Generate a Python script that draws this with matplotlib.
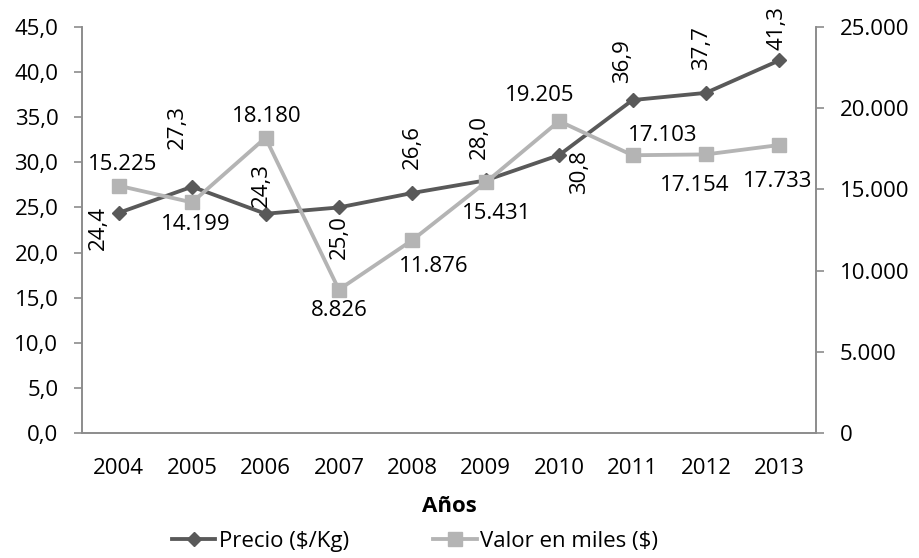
import matplotlib
matplotlib.use("Agg")
import matplotlib.pyplot as plt
from matplotlib.ticker import FuncFormatter, MultipleLocator

plt.rcParams['font.family'] = ['Open Sans', 'DejaVu Sans']

years = [2004, 2005, 2006, 2007, 2008, 2009, 2010, 2011, 2012, 2013]
precio = [24.4, 27.3, 24.3, 25.0, 26.6, 28.0, 30.8, 36.9, 37.7, 41.3]
valor = [15225, 14199, 18180, 8826, 11876, 15431, 19205, 17103, 17154, 17733]

# label offsets (pixels) from each point
precio_off = [(-20, -15), (-15, 60), (-4, 29), (0, -30), (0, 46), (-6, 43), (20, -17), (-10, 39), (-4, 45), (-2, 32)]
valor_off = [(4, 21), (4, -22), (1, 21), (0, -21), (21, -26), (11, -31), (-19, 26), (30, 20), (-11, -31), (-2, -36)]

C1 = '#595959'
C2 = '#b4b4b4'
AX = '#8c8c8c'
FS = 16

W, H = 920, 558
fig = plt.figure(figsize=(W / 100, H / 100), dpi=100)
L, R, T, B = 82, 816, 27, 433
ax = fig.add_axes([L / W, 1 - B / H, (R - L) / W, (B - T) / H])
ax2 = ax.twinx()

x = list(range(len(years)))
l1, = ax.plot(x, precio, color=C1, lw=2.75, marker='D', ms=7, zorder=3, label='Precio ($/Kg)')
l2, = ax2.plot(x, valor, color=C2, lw=2.75, marker='s', ms=10.5, zorder=2, label='Valor en miles ($)')

ax.set_xlim(-0.5, len(years) - 0.5)
ax.set_ylim(0, 45)
ax2.set_ylim(0, 25000)
ax.yaxis.set_major_locator(MultipleLocator(5))
ax2.yaxis.set_major_locator(MultipleLocator(5000))
ax.yaxis.set_major_formatter(FuncFormatter(lambda v, p: f"{v:.1f}".replace('.', ',')))
ax2.yaxis.set_major_formatter(FuncFormatter(lambda v, p: f"{int(v):,}".replace(',', '.')))
ax.set_xticks(x)
ax.set_xticklabels([str(y) for y in years])

for a in (ax, ax2):
    a.spines['top'].set_visible(False)
    for s in ('left', 'right', 'bottom'):
        a.spines[s].set_color(AX)
        a.spines[s].set_linewidth(1.2)
ax.tick_params(axis='y', colors=AX, labelcolor='black', labelsize=FS, length=6, width=1.2, pad=11)
ax2.tick_params(axis='y', colors=AX, labelcolor='black', labelsize=FS, length=6, width=1.2, pad=11)
ax.tick_params(axis='x', length=0, labelsize=FS, labelcolor='black', pad=18)

fig.text((L + R) / 2 / W, 1 - 507 / H, 'Años', fontsize=FS, fontweight='bold', ha='center', va='center')

for i, v in enumerate(precio):
    ax.annotate(f"{v:.1f}".replace('.', ','), (x[i], v), xytext=precio_off[i], textcoords='offset pixels',
                rotation=90, ha='center', va='center', fontsize=FS, zorder=5)
for i, v in enumerate(valor):
    ax2.annotate(f"{v:,}".replace(',', '.'), (x[i], v), xytext=valor_off[i], textcoords='offset pixels',
                 ha='center', va='center', fontsize=FS, zorder=5)

fig.legend([l1, l2], [l1.get_label(), l2.get_label()], loc='center left',
           bbox_to_anchor=(172 / W, 1 - 541 / H), ncol=2, frameon=False, fontsize=FS,
           borderpad=0, borderaxespad=0, columnspacing=3.8, handlelength=1.95, handletextpad=0.15)

fig.savefig('out.png', dpi=100)
